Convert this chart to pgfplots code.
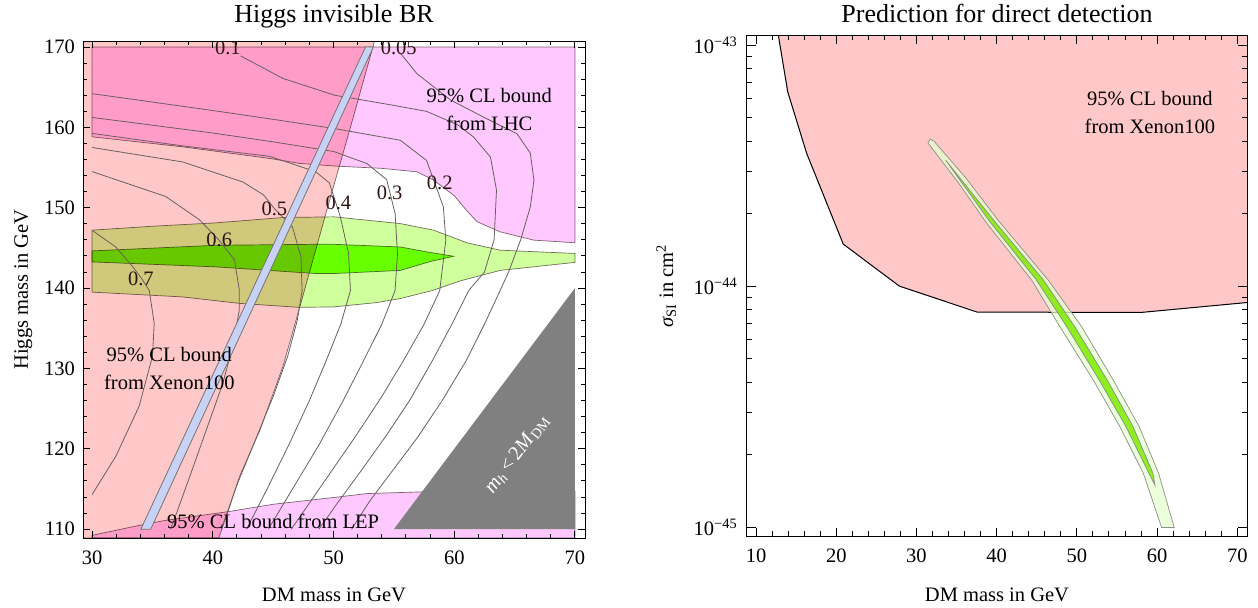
\documentclass[border=0pt]{standalone}
\usepackage{fontspec}
\setmainfont{Liberation Serif}
\usepackage{pgfplots}
\pgfplotsset{compat=1.18}
\definecolor{xen}{RGB}{255,200,200}
\definecolor{lhc}{RGB}{255,200,255}
\definecolor{lgreen}{RGB}{208,255,158}
\definecolor{bgreen}{RGB}{128,255,0}
\definecolor{bandblue}{RGB}{200,210,245}
\definecolor{cline}{RGB}{105,95,95}
\definecolor{edge}{RGB}{125,110,110}
\definecolor{labc}{RGB}{45,20,20}
\definecolor{tri}{RGB}{128,128,128}
\definecolor{pale}{RGB}{228,255,205}
\definecolor{midg}{RGB}{125,235,0}
\begin{document}
\fontsize{10.25}{12.3}\selectfont
\begin{tikzpicture}
\useasboundingbox (0,0) rectangle (629pt,303.5pt);
\begin{axis}[
  at={(41.5pt,34.5pt)}, anchor=south west, scale only axis,
  width=251pt, height=248.5pt,
  xmin=29.25, xmax=70.83, ymin=108.9, ymax=170.75,
  xtick={30,40,50,60,70}, ytick={110,120,130,140,150,160,170},
  minor x tick num=4, minor y tick num=4,
  tick align=inside, major tick length=3.3pt, minor tick length=2pt,
  every tick/.style={black, line width=0.5pt},
  axis line style={line width=0.5pt},
  /pgf/number format/assume math mode=true,
  title={Higgs invisible BR},
  xlabel={DM mass in GeV}, ylabel={Higgs mass in GeV},
  every axis title/.style={at={(axis description cs:0.5,1.0372)},anchor=base,font=\fontsize{13}{15}\selectfont},
  every axis x label/.style={at={(axis description cs:0.5,-0.1268)},anchor=base},
  every axis y label/.style={at={(axis description cs:-0.1096,0.5)},rotate=90,anchor=base},
  xticklabel style={yshift=-2.6pt}, yticklabel style={xshift=-0.5pt},
  axis on top,
]
% Xenon100 exclusion
\addplot[fill=xen, draw=edge, line width=0.35pt, blend mode=multiply] coordinates {
 (29.25,108.9) (40.5,108.9) (41.4,112.8) (42.2,116.5) (43.9,122.3) (45.8,130.2) (47.2,137.6)
 (49.5,150) (51.4,160) (53.4,170.75) (29.25,170.75)} -- cycle;
% LHC exclusion
\addplot[fill=lhc, draw=edge, line width=0.35pt, blend mode=multiply] coordinates {
 (30,170) (70,170) (70,145.64) (66.57,145.97) (63.8,147.0) (61.88,148.27) (61.0,149.7)
 (60.0,151.5) (58.29,153.44) (56.91,154.47) (54,154.9) (50.09,155.19) (47.16,155.52)
 (44.68,156.14) (37.5,157.58) (30,158.83)} -- cycle;
% LEP exclusion
\addplot[fill=lhc, draw=edge, line width=0.35pt, blend mode=multiply] coordinates {
 (30,108.9) (70,108.9) (70,114.7) (57.27,114.64) (52.77,114.43) (50.05,113.95) (45,113.1)
 (41.37,112.2) (36.11,111.1) (33.9,110.47) (30,109.23)} -- cycle;
% outer green region
\addplot[fill=lgreen, draw=edge, line width=0.35pt, blend mode=multiply] coordinates {
 (30,147.21) (35,147.7) (40.26,148.12) (45.78,148.78) (50.05,148.87) (52.77,148.45)
 (55.53,148.03) (58.29,147.21) (61.05,145.64) (63.8,144.72) (70,144.31) (70,143.2)
 (63.8,142.2) (60.5,140.9) (58.2,139.7) (55.53,138.7) (53.6,138.2) (50.01,137.66)
 (47.16,137.6) (42.2,138.1) (37.5,138.9) (30,139.5)} -- cycle;
% inner green region
\addplot[fill=bgreen, draw=edge, line width=0.35pt, blend mode=multiply] coordinates {
 (30,144.63) (40.26,145.33) (48.54,145.45) (50.01,145.45) (55.53,145.12) (57.74,144.5)
 (59.95,143.96) (58.0,143.3) (55.53,142.2) (50.01,141.81) (48.54,141.81) (40.26,142.64)
 (30,143.26)} -- cycle;
% kinematically closed region
\addplot[fill=tri, draw=none] coordinates {(55,110) (70,110) (70,140)} -- cycle;
% contours of the invisible branching ratio
\addplot[cline, line width=0.4pt] coordinates {
 (55.5,169.3) (56.9,166.7) (59.7,163.4) (62.4,161.3) (65.2,159.2) (66.3,156.8) (66.6,153.4)
 (66.3,150.1) (65.5,146) (64.5,142) (63.8,139.7) (62.5,135.5) (61,131) (59,126) (57,121.5)
 (55,117.5) (53,113.5) (51.5,110)};
\addplot[cline, line width=0.4pt] coordinates {
 (42.3,168.9) (45.8,166.1) (50.1,164.0) (54,163) (57.7,162) (60.3,160.3) (61.6,158.8)
 (63,156.3) (63.5,152.2) (63.3,146) (62.5,142) (61.2,139.7) (59.8,135.5) (58.2,131)
 (56.3,126) (54.3,121.5) (52.3,117.3) (50.3,113.2) (48.8,110)};
\addplot[cline, line width=0.4pt] coordinates {
 (30,164.2) (40,162.1) (45,161) (50.01,159.87) (55.53,158.4) (57.7,155.9) (59.1,150.1)
 (59.3,146) (58.8,139.7) (57.5,135.5) (55.8,131) (54,126.5) (51.8,121.5) (49.5,116.5)
 (47.2,111.5) (46.5,110)};
\addplot[cline, line width=0.4pt] coordinates {
 (30,161.24) (40,159.3) (45,158.2) (50.01,157.0) (52.77,155.5) (54.4,153.5) (55.1,149.3)
 (55.3,144.3) (55.1,139.7) (54,135.5) (52.5,131) (50.8,126) (48.8,120.5) (46.8,115.5)
 (44.6,110)};
\addplot[cline, line width=0.4pt] coordinates {
 (30,159.25) (37.5,157.7) (44.7,156.4) (48.5,154.5) (49.65,153.1) (50.56,148.9)
 (51.25,144.3) (51.4,139.7) (50.6,135.5) (49.4,131) (48,126) (46.3,120.5) (44.5,115)
 (42.8,110)};
\addplot[cline, line width=0.4pt] coordinates {
 (30,157.5) (37.5,155.7) (42.5,153.2) (44.2,151.6) (45.1,149.9) (46.6,147.6) (47.3,143.9)
 (47.4,139.7) (47,136) (46.2,131.5) (45,126.5) (43.5,121) (42,115.5) (40.7,110)};
\addplot[cline, line width=0.4pt] coordinates {
 (30,154.5) (36.1,151.4) (38.9,148.5) (40.5,146) (41.8,143.5) (42.2,139.7) (42.2,137.3)
 (41.7,133) (40.8,128) (39.5,122.5) (38.2,117) (37,112) (36.5,110)};
\addplot[cline, line width=0.4pt] coordinates {
 (30,147.2) (31.98,145.1) (33.4,142.6) (34.1,141.2) (34.74,139.7) (35.15,135.6)
 (35.0,131.5) (33.9,125.3) (31.98,119.1) (30,114.3)};
% benchmark band
\addplot[fill=bandblue, draw=black!55, line width=0.4pt] coordinates {
 (34.04,110) (34.86,110) (53.3,170) (52.65,170)} -- cycle;
% labels
\begin{scope}[every node/.style={text=labc, inner sep=0pt}]
\node at (axis cs:41.25,169.9) {0.1};
\node at (axis cs:55.4,169.9) {0.05};
\node at (axis cs:58.8,153.1) {0.2};
\node at (axis cs:54.65,151.8) {0.3};
\node at (axis cs:50.4,150.6) {0.4};
\node at (axis cs:45.1,149.9) {0.5};
\node at (axis cs:40.54,146.05) {0.6};
\node at (axis cs:34.04,141.2) {0.7};
\end{scope}
\node[align=center, font=\fontsize{10.25}{14}\selectfont] at (axis cs:36.4,130.0) {95\% CL bound\\from Xenon100};
\node[align=center, font=\fontsize{10.25}{14}\selectfont] at (axis cs:62.9,162.2) {95\% CL bound\\from LHC};
\node at (axis cs:45.0,111.0) {95\% CL bound from LEP};
\node[white, rotate=53] at (axis cs:65.2,119.4) {\textit{m}\textsubscript{\textit{h}}\,<\,2\textit{M}\textsubscript{DM}};
\end{axis}

\begin{axis}[
  at={(373.35pt,35.15pt)}, anchor=south west, scale only axis,
  width=250.3pt, height=250.85pt,
  xmin=8.83, xmax=71.25, ymin=-45.038, ymax=-42.958,
  xtick={10,20,30,40,50,60,70}, minor x tick num=4,
  ytick={-45,-44,-43},
  yticklabels={10\textsuperscript{−45},10\textsuperscript{−44},10\textsuperscript{−43}},
  minor ytick={-44.69897,-44.52288,-44.39794,-44.30103,-44.22185,-44.15490,-44.09691,-44.04576,
               -43.69897,-43.52288,-43.39794,-43.30103,-43.22185,-43.15490,-43.09691,-43.04576},
  tick align=inside, major tick length=4.5pt, minor tick length=2.7pt,
  every tick/.style={black, line width=0.5pt},
  axis line style={line width=0.5pt},
  /pgf/number format/assume math mode=true,
  title={Prediction for direct detection},
  xlabel={DM mass in GeV}, ylabel={\textit{σ}\textsubscript{SI} in cm\textsuperscript{2}},
  every axis title/.style={at={(axis description cs:0.5,1.0249)},anchor=base,font=\fontsize{13}{15}\selectfont},
  every axis x label/.style={at={(axis description cs:0.5,-0.1292)},anchor=base},
  every axis y label/.style={at={(axis description cs:-0.1472,0.5)},rotate=90,anchor=base},
  xticklabel style={yshift=-2.3pt}, yticklabel style={xshift=-0.9pt},
  axis on top,
]
\addplot[fill=xen, draw=none] coordinates {
 (12.77,-42.958) (13.94,-43.193) (16.31,-43.449) (20.87,-43.825) (27.86,-43.999)
 (37.58,-44.107) (58.08,-44.108) (71.25,-44.067) (71.25,-42.958)} -- cycle;
\addplot[black, line width=0.5pt] coordinates {
 (12.77,-42.958) (13.94,-43.193) (16.31,-43.449) (20.87,-43.825) (27.86,-43.999)
 (37.58,-44.107) (58.08,-44.108) (71.25,-44.067)};
\addplot[fill=pale, fill opacity=0.75, draw=black!45, line width=0.35pt] coordinates {
 (31.7,-43.39) (31.43,-43.406) (35.17,-43.568) (38.66,-43.734) (44.36,-43.974) (47.89,-44.168)
 (52.05,-44.389) (55.37,-44.582) (58.28,-44.775) (60.57,-45)
 (62.14,-45) (60.19,-44.775) (57.77,-44.582) (54.54,-44.389) (50.61,-44.168)
 (46.43,-43.974) (40.16,-43.725) (36.17,-43.551) (32.18,-43.398)} -- cycle;
\addplot[fill=midg, fill opacity=0.85, draw=black!45, line width=0.35pt] coordinates {
 (33.64,-43.477) (39.10,-43.730) (44.96,-43.974) (48.75,-44.168) (52.79,-44.389)
 (56.13,-44.582) (58.98,-44.775) (59.74,-44.824)
 (59.48,-44.775) (57.01,-44.582) (53.79,-44.389) (49.75,-44.168) (45.83,-43.974)
 (39.72,-43.730)} -- cycle;
\node[align=center, font=\fontsize{10.25}{14}\selectfont] at (axis cs:59.1,-43.28) {95\% CL bound\\from Xenon100};
\end{axis}
\end{tikzpicture}
\end{document}
